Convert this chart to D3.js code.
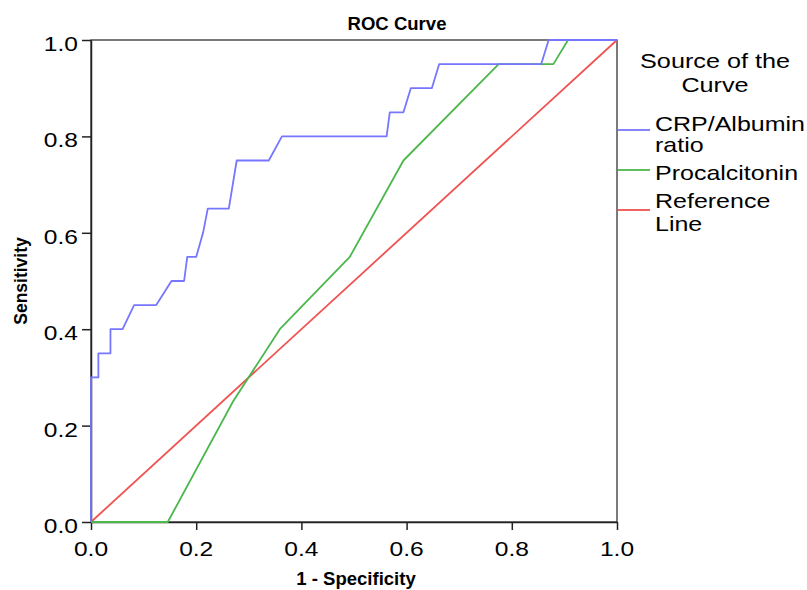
<!DOCTYPE html>
<html>
<head>
<meta charset="utf-8">
<script src="https://cdn.jsdelivr.net/npm/d3@7/dist/d3.min.js"></script>
<style>
  html, body { margin: 0; padding: 0; background: #fff; }
  svg { display: block; font-family: "Liberation Sans", Arial, sans-serif; }
</style>
</head>
<body>
<svg id="chart" width="807" height="590"></svg>
<script>
// ---- Data ----
const tickValues = [0, 0.2, 0.4, 0.6, 0.8, 1.0];
const tickLabels = ["0.0", "0.2", "0.4", "0.6", "0.8", "1.0"];

const crpX = [0, 0, 0.014, 0.014, 0.037, 0.037, 0.06, 0.082, 0.124, 0.153, 0.177, 0.183, 0.2, 0.213, 0.222, 0.262, 0.277, 0.338, 0.363, 0.562, 0.568, 0.594, 0.608, 0.648, 0.662, 0.856, 0.870, 1.0];
const crpY = [0, 0.30, 0.30, 0.35, 0.35, 0.40, 0.40, 0.45, 0.45, 0.50, 0.50, 0.55, 0.55, 0.60, 0.65, 0.65, 0.75, 0.75, 0.80, 0.80, 0.85, 0.85, 0.90, 0.90, 0.95, 0.95, 1.0, 1.0];

const pctX = [0, 0.146, 0.27, 0.359, 0.492, 0.594, 0.775, 0.879, 0.907, 1.0];
const pctY = [0, 0, 0.25, 0.40, 0.55, 0.75, 0.95, 0.95, 1.0, 1.0];

const refX = [0, 1];
const refY = [0, 1];

const seriesNames = ["CRP/Albumin ratio", "Procalcitonin", "Reference Line"];
const legendLines = [["CRP/Albumin", "ratio"], ["Procalcitonin"], ["Reference", "Line"]];
const seriesColors = ["#7676ff", "#4cb74c", "#f05252"];

const titleText = "ROC Curve";
const xTitle = "1 - Specificity";
const yTitle = "Sensitivity";
const legendTitle = ["Source of the", "Curve"];

// ---- Layout ----
const svg = d3.select("#chart");
const mLeft = 91, mRight = 617, mTop = 40, mBottom = 522;

const x = d3.scaleLinear().domain([0, 1]).range([mLeft, mRight]);
const y = d3.scaleLinear().domain([0, 1]).range([mBottom, mTop]);

function txt(g, px, py, s, o) {
  const size = o.size || 21, weight = o.weight || "normal", anchor = o.anchor || "start";
  const sx = o.sx || 1, rot = o.rotate || 0;
  return g.append("text")
    .attr("transform", `translate(${px},${py}) rotate(${rot}) scale(${sx},1)`)
    .attr("text-anchor", anchor)
    .attr("font-size", size)
    .attr("font-weight", weight)
    .attr("fill", "#000")
    .text(s);
}

// frame (top + right)
svg.append("rect")
  .attr("x", mLeft).attr("y", mTop)
  .attr("width", mRight - mLeft).attr("height", mBottom - mTop)
  .attr("fill", "none").attr("stroke", "#333").attr("stroke-width", 1.3);

// axes
const xAxis = d3.axisBottom(x).tickValues(tickValues).tickFormat("").tickSize(8).tickSizeOuter(0);
const yAxis = d3.axisLeft(y).tickValues(tickValues).tickFormat("").tickSize(9).tickSizeOuter(0);

const gx = svg.append("g").attr("transform", `translate(0,${mBottom})`).call(xAxis);
const gy = svg.append("g").attr("transform", `translate(${mLeft},0)`).call(yAxis);
[gx, gy].forEach(g => {
  g.selectAll("path.domain").attr("stroke", "#222").attr("stroke-width", 1.5);
  g.selectAll(".tick line").attr("stroke", "#222").attr("stroke-width", 1.5);
});

// tick labels
tickValues.forEach((v, i) => {
  txt(svg, x(v), 556, tickLabels[i], { size: 21, anchor: "middle", sx: 1.17 });
  txt(svg, 78, y(v) + 11, tickLabels[i], { size: 21, anchor: "end", sx: 1.17 });
});

// titles
txt(svg, 397, 30, titleText, { size: 18, weight: "bold", anchor: "middle", sx: 1.03 });
txt(svg, 356, 585, xTitle, { size: 18, weight: "bold", anchor: "middle", sx: 1.03 });
txt(svg, 27, 281, yTitle, { size: 17.5, weight: "bold", anchor: "middle", rotate: -90 });

// lines
const line = d3.line().x(d => x(d[0])).y(d => y(d[1]));
const series = [
  d3.zip(crpX, crpY),
  d3.zip(pctX, pctY),
  d3.zip(refX, refY)
];
[2, 1, 0].forEach(i => {
  svg.append("path")
    .datum(series[i])
    .attr("d", line)
    .attr("fill", "none")
    .attr("stroke", seriesColors[i])
    .attr("stroke-width", 1.8)
    .attr("stroke-linejoin", "round")
    .attr("aria-label", seriesNames[i]);
});

// legend
txt(svg, 715, 68, legendTitle[0], { size: 21, anchor: "middle", sx: 1.2 });
txt(svg, 715, 92, legendTitle[1], { size: 21, anchor: "middle", sx: 1.2 });

const legendLineY = [130, 170, 210];
const legendTextY = [[130.5, 152], [180], [208, 231]];
legendLines.forEach((lines, i) => {
  svg.append("line")
    .attr("x1", 618).attr("x2", 650)
    .attr("y1", legendLineY[i]).attr("y2", legendLineY[i])
    .attr("stroke", seriesColors[i]).attr("stroke-width", 1.8);
  lines.forEach((s, j) => {
    txt(svg, 655, legendTextY[i][j], s, { size: 21, anchor: "start", sx: 1.19 });
  });
});
</script>
</body>
</html>
